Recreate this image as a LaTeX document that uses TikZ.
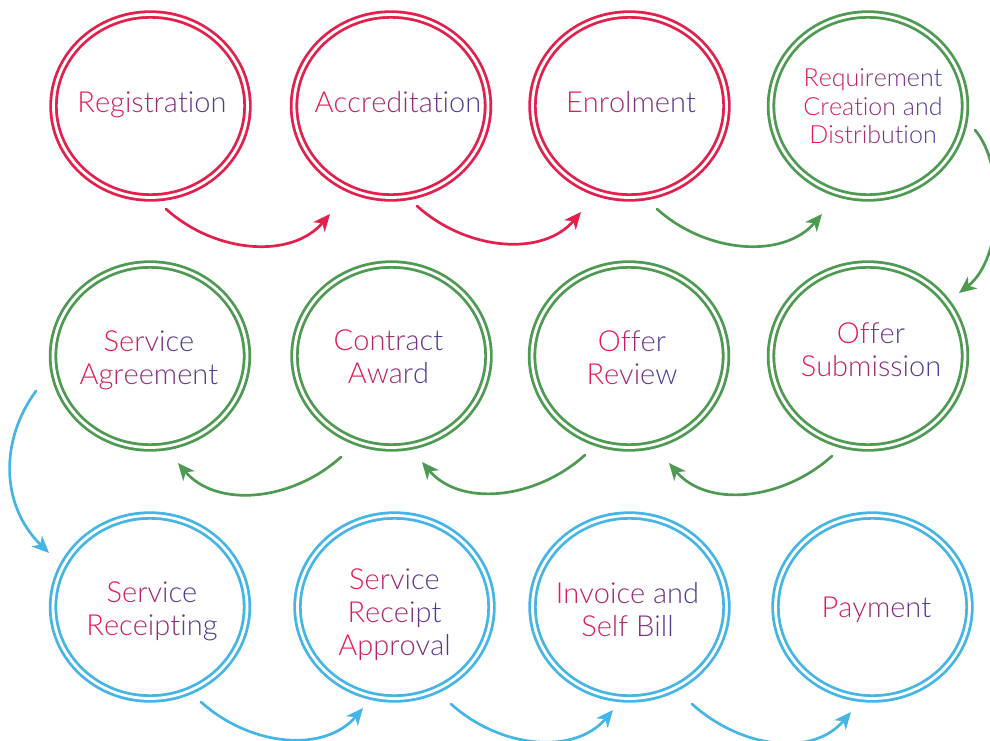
\documentclass[tikz,border=0pt]{standalone}
\usepackage{fontspec}
\setmainfont{Lato}[UprightFont=* Light]
\usepackage{xcolor}
\usetikzlibrary{shapes.geometric,arrows.meta}

\definecolor{ringred}{HTML}{E3204C}
\definecolor{ringgreen}{HTML}{4E9A52}
\definecolor{ringblue}{HTML}{44B5E5}
\definecolor{tstart}{HTML}{E8194F}
\definecolor{tend}{HTML}{4B3C96}

% one line of text whose letters fade from tstart to tend
\ExplSyntaxOn
\int_new:N \l_gr_n_int
\int_new:N \l_gr_i_int
\NewDocumentCommand \gradline { m }
 {
  \int_set:Nn \l_gr_n_int { \str_count:n {#1} }
  \int_zero:N \l_gr_i_int
  \str_map_inline:nn {#1}
   {
    \int_incr:N \l_gr_i_int
    \exp_args:Nx \color
     { tstart ! \int_eval:n { 100 - ( 100 * ( \l_gr_i_int - 1 ) ) / ( \l_gr_n_int - 1 ) } ! tend }
    \scan_stop: ##1
   }
 }
\ExplSyntaxOff

% stage caption: #1 = horizontal offset, #2 = first baseline below the centre, #3 = lines
\newcommand\stagetext[3]{\makebox[0pt]{\hspace*{#1}\raisebox{-#2}[0pt][0pt]{\fontsize{29}{33}\selectfont\begin{tabular}[t]{@{}c@{}}#3\end{tabular}}}}
\newcommand\smallstagetext[3]{\makebox[0pt]{\hspace*{#1}\raisebox{-#2}[0pt][0pt]{\fontsize{25}{28.5}\selectfont\begin{tabular}[t]{@{}c@{}}#3\end{tabular}}}}

\begin{document}
\begin{tikzpicture}[x=1pt,y=-1pt,
  stage/.style={ellipse, minimum width=194pt, minimum height=183pt, inner sep=0pt,
    draw=#1, double=white, line width=2.8pt, double distance=2.8pt},
  arr/.style={draw=#1, line width=2.7pt, line cap=round,
    -{Stealth[length=17pt,width=15pt,inset=5pt]}}]
\useasboundingbox (0,0) rectangle (990,741);
\clip (0,0) rectangle (990,741);

% row 1
\node[stage=ringred]   (reg) at (150.5,106) {\stagetext{3pt}{7pt}{\gradline{Registration}}};
\node[stage=ringred]   (acc) at (391,106)   {\stagetext{14pt}{7pt}{\gradline{Accreditation}}};
\node[stage=ringred]   (enr) at (629.5,106) {\stagetext{3pt}{7pt}{\gradline{Enrolment}}};
\node[stage=ringgreen] (req) at (868,106)   {\smallstagetext{10pt}{-19pt}{\gradline{Requirement}\\\gradline{Creation and}\\\gradline{Distribution}}};

% row 2
\node[stage=ringgreen] (sa)  at (150,356)   {\stagetext{-2pt}{-4.5pt}{\gradline{Service}\\\gradline{Agreement}}};
\node[stage=ringgreen] (ca)  at (391.5,356) {\stagetext{-6pt}{-6pt}{\gradline{Contract}\\\gradline{Award}}};
\node[stage=ringgreen] (orv) at (629,356)   {\stagetext{6pt}{-4.5pt}{\gradline{Offer}\\\gradline{Review}}};
\node[stage=ringgreen] (os)  at (868,356)   {\stagetext{6pt}{-13pt}{\gradline{Offer}\\\gradline{Submission}}};

% row 3
\node[stage=ringblue]  (sr)  at (150,607)   {\stagetext{4pt}{-5pt}{\gradline{Service}\\\gradline{Receipting}}};
\node[stage=ringblue]  (sra) at (394.5,607) {\stagetext{0pt}{-18pt}{\gradline{Service}\\\gradline{Receipt}\\\gradline{Approval}}};
\node[stage=ringblue]  (inv) at (629.5,607) {\stagetext{-4pt}{-4pt}{\gradline{Invoice and}\\\gradline{Self Bill}}};
\node[stage=ringblue]  (pay) at (872.5,607) {\stagetext{8pt}{10pt}{\gradline{Payment}}};

% connectors, row 1 (left to right)
\draw[arr=ringred] ([shift={(15.5,103)}]reg.center) .. controls +(50,45) and +(-38,45) .. ([shift={(-61,108)}]acc.center);
\draw[arr=ringred] ([shift={(26,100)}]acc.center) .. controls +(50,45) and +(-38,45) .. ([shift={(-48.5,106)}]enr.center);
\draw[arr=ringgreen] ([shift={(27.5,103)}]enr.center) .. controls +(50,45) and +(-38,45) .. ([shift={(-46,108)}]req.center);
% down the right side
\draw[arr=ringgreen] ([shift={(107,24)}]req.center) .. controls +(30,35) and +(45,-35) .. ([shift={(91,-63)}]os.center);
% row 2 (right to left)
\draw[arr=ringgreen] ([shift={(-36,100)}]os.center) .. controls +(-50,45) and +(38,45) .. ([shift={(40,107)}]orv.center);
\draw[arr=ringgreen] ([shift={(-44,99)}]orv.center) .. controls +(-50,45) and +(38,45) .. ([shift={(30.5,106)}]ca.center);
\draw[arr=ringgreen] ([shift={(-50.5,101)}]ca.center) .. controls +(-50,45) and +(38,45) .. ([shift={(28,107)}]sa.center);
% down the left side
\draw[arr=ringblue] ([shift={(-114,35)}]sa.center) .. controls +(-36,49) and +(-49,-48) .. ([shift={(-101,-54)}]sr.center);
% row 3 (left to right)
\draw[arr=ringblue] ([shift={(51,95)}]sr.center) .. controls +(50,45) and +(-38,45) .. ([shift={(-31.5,101)}]sra.center);
\draw[arr=ringblue] ([shift={(56.5,97)}]sra.center) .. controls +(50,45) and +(-38,45) .. ([shift={(-16.5,103)}]inv.center);
\draw[arr=ringblue] ([shift={(62.5,97)}]inv.center) .. controls +(50,45) and +(-38,45) .. ([shift={(-21.5,105)}]pay.center);
\end{tikzpicture}
\end{document}
